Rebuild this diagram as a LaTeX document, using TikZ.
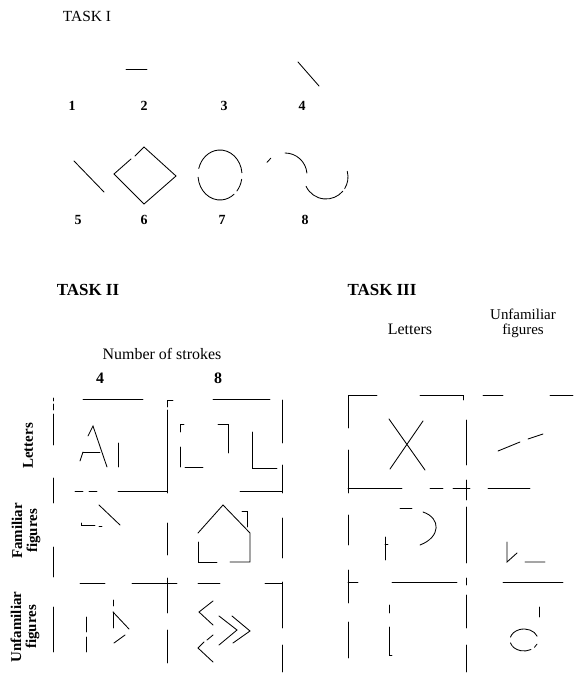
\documentclass[tikz,border=0pt]{standalone}
\usepackage{fontspec}
\setmainfont{Liberation Serif}
\begin{document}
\begin{tikzpicture}[x=1bp,y=-1bp,
  ln/.style={draw=black, line width=0.85pt, line cap=round},
  tasktitle/.style={font=\fontsize{17}{19}\selectfont\bfseries, inner sep=0pt},
  tasktitleone/.style={font=\fontsize{15.5}{17}\selectfont, inner sep=0pt},
  num/.style={font=\fontsize{14}{16}\selectfont\bfseries, inner sep=0pt},
  head/.style={font=\fontsize{16}{13}\selectfont, inner sep=0pt, align=center},
  rowlab/.style={font=\fontsize{15}{15}\selectfont\bfseries, rotate=90, align=center, inner sep=0pt}]
\useasboundingbox (0,0) rectangle (576,673);

% ---------------- TASK I ----------------
\node[tasktitleone] (t1) at (87,16) {TASK I};
\draw[ln] (126,69) -- (147,69);
\draw[ln] (298,62) -- (319,86);
\node[num] (n1) at (72,106) {1};
\node[num] (n2) at (144,106) {2};
\node[num] (n3) at (224,106) {3};
\node[num] (n4) at (302,106) {4};
\draw[ln] (74,161) -- (104,192);
\draw[ln] (135,156) -- (144,147) -- (176,176) -- (144,204) -- (114,174) -- (131,159);
\draw[ln] (220,175) ++(-5:22 and 25) arc[start angle=-5, end angle=-165, x radius=22, y radius=25];
\draw[ln] (220,175) ++(-185:22 and 25) arc[start angle=-185, end angle=-310, x radius=22, y radius=25];
\draw[ln] (220,175) ++(-320:22 and 25) arc[start angle=-320, end angle=-350, x radius=22, y radius=25];
\draw[ln] (285,175) ++(-130:22) arc[start angle=-130, end angle=-145, radius=22];
\draw[ln] (285,175) ++(-90:22) arc[start angle=-90, end angle=-5, radius=22];
\draw[ln] (326,177) ++(-205:22) arc[start angle=-205, end angle=-320, radius=22];
\draw[ln] (326,177) ++(-328:22) arc[start angle=-328, end angle=-375, radius=22];
\node[num] (n5) at (78,220) {5};
\node[num] (n6) at (144,220) {6};
\node[num] (n7) at (222,220) {7};
\node[num] (n8) at (305,220) {8};

% ---------------- TASK II ----------------
\node[tasktitle] (t2) at (88,290) {TASK II};
\node[head] (strokes) at (162,354) {Number of strokes};
\node[num, font=\fontsize{16}{18}\selectfont\bfseries] (s4) at (100,378) {4};
\node[num, font=\fontsize{16}{18}\selectfont\bfseries] (s8) at (218,378) {8};
\node[rowlab] (r1) at (28,446) {Letters};
\node[rowlab] (r2) at (26,531) {Familiar\\figures};
\node[rowlab] (r3) at (25,627) {Unfamiliar\\figures};

% grid
\draw[ln] (53,398) -- (53,401) (83,399) -- (143,399)
          (167,407) -- (167,400) -- (173,400) (213,399) -- (270,399);
\draw[ln] (53,404) -- (53,410) (53,414) -- (53,445) (53,478) -- (53,503)
          (53,547) -- (53,577) (53,607) -- (53,652);
\draw[ln] (167,410) -- (167,493) (167,523) -- (167,555) (167,578) -- (167,613) (167,630) -- (167,663);
\draw[ln] (282,400) -- (282,443) (282,465) -- (282,493) (282,518) -- (282,558)
          (282,582) -- (282,628) (282,645) -- (282,672);
\draw[ln] (75,491) -- (83,491) (89,491) -- (97,491) (118,491) -- (167,491) (240,491) -- (282,491);
\draw[ln] (80,583) -- (105,583) (132,583) -- (177,583) (198,583) -- (220,583) (265,583) -- (282,583);

% letters, 4 strokes: A I
\draw[ln] (88,436) -- (93,426) -- (107,467);
\draw[ln] (83,452) -- (80,461);
\draw[ln] (83,452) -- (100,452);
\draw[ln] (118,443) -- (118,467);
% letters, 8 strokes
\draw[ln] (180,432) -- (180,424) -- (184,424) (180,447) -- (180,467) (185,467) -- (203,467);
\draw[ln] (218,424) -- (228,424) -- (228,453);
\draw[ln] (252,432) -- (252,468) -- (277,468);
% familiar, 4 strokes
\draw[ln] (99,505) -- (120,525);
\draw[ln] (81,523) -- (81,525) -- (95,525) (99,526) -- (102,526);
% familiar, 8 strokes: house
\draw[ln] (198,533) -- (223,505) -- (250,533) -- (250,562) -- (230,562);
\draw[ln] (217,562) -- (198,562) -- (198,542);
\draw[ln] (242,511) -- (247,511) -- (247,527);
% unfamiliar, 4 strokes
\draw[ln] (86,617) -- (86,632) (86,637) -- (86,652);
\draw[ln] (113,600) -- (113,606) (113,612) -- (113,628);
\draw[ln] (113,612) -- (129,629) (125,635) -- (114,643);
% unfamiliar, 8 strokes
\draw[ln] (213,601) -- (199,612) -- (213,625);
\draw[ln] (213,635) -- (207,640) (204,642) -- (198,648) -- (213,662);
\draw[ln] (219,616) -- (237,630) -- (219,645);
\draw[ln] (232,616) -- (250,631) -- (233,643);

% ---------------- TASK III ----------------
\node[tasktitle] (t3) at (382,290) {TASK III};
\node[head] (h31) at (410,329) {Letters};
\node[head, font=\fontsize{15}{15}\selectfont] (h32) at (523,323) {Unfamiliar\\figures};

% grid
\draw[ln] (377,395) -- (348,395) -- (348,428) (348,450) -- (348,493) (348,515) -- (348,545)
          (348,570) -- (348,603) (348,622) -- (348,658);
\draw[ln] (420,395) -- (463,395) -- (463,400) (483,395) -- (503,395) (550,395) -- (573,395);
\draw[ln] (466,420) -- (466,465) (466,480) -- (466,500) (466,507) -- (466,563)
          (466,578) -- (466,585) (466,595) -- (466,628) (466,645) -- (466,672);
\draw[ln] (348,488) -- (402,488) (430,488) -- (443,488) (453,488) -- (470,488) (488,488) -- (530,488);
\draw[ln] (348,582) -- (358,582) (392,582) -- (457,582) (503,582) -- (563,582);

% letters row 1: X
\draw[ln] (389,419) -- (425,470) (423,421) -- (390,469);
% unfamiliar row 1
\draw[ln] (498,451) -- (520,442) (528,439) -- (543,434);
% letters row 2
\draw[ln] (400,508) -- (412,508);
\draw[ln] (423,512) .. controls (441,518) and (441,537) .. (420,545);
\draw[ln] (385,537) -- (385,560) (385,544) -- (388,544);
% unfamiliar row 2
\draw[ln] (507,542) -- (507,562) -- (517,553) (525,562) -- (545,562);
% letters row 3
\draw[ln] (389,605) -- (389,613) (389,627) -- (389,655) -- (392,655);
% unfamiliar row 3
\draw[ln] (539,607) -- (539,617);
\draw[ln] (524,640) ++(-20:14 and 11) arc[start angle=-20, end angle=-165, x radius=14, y radius=11];
\draw[ln] (524,640) ++(-195:14 and 11) arc[start angle=-195, end angle=-300, x radius=14, y radius=11];
\draw[ln] (524,640) ++(-318:14 and 11) arc[start angle=-318, end angle=-338, x radius=14, y radius=11];
\end{tikzpicture}
\end{document}
